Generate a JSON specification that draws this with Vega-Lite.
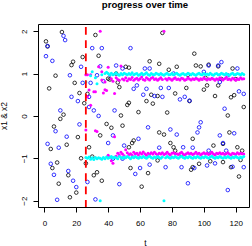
{
"$schema":"https://vega.github.io/schema/vega-lite/v6.json",
"width":211,"height":183,
"autosize":"none",
"padding":{"left":38,"top":24,"right":3,"bottom":39},
"background":"white",
"title":{"text":"progress over time","anchor":"middle","fontSize":9.6,"fontWeight":"bold","font":"Liberation Sans","color":"black","baseline":"alphabetic","offset":5.6,"frame":"group","dx":1.5},
"config":{"font":"Liberation Sans","view":{"stroke":"black","strokeWidth":1},
"axis":{"domain":false,"grid":false,"tickColor":"black","tickSize":5,"tickWidth":1,"labelFontSize":8,"labelColor":"black","titleFontSize":8.4,"titleFontWeight":"normal","titleColor":"black","labelFont":"Liberation Sans","titleFont":"Liberation Sans"}},
"datasets":{
"obs":[
{"t":1,"v":1.76,"s":"a"},{"t":2,"v":1.64,"s":"a"},{"t":3,"v":0.65,"s":"a"},{"t":7,"v":0.95,"s":"a"},{"t":11,"v":1.98,"s":"a"},{"t":32,"v":1.91,"s":"a"},{"t":34,"v":1.42,"s":"a"},{"t":24,"v":1.39,"s":"a"},{"t":18,"v":1.28,"s":"a"},{"t":17,"v":1.2,"s":"a"},{"t":19,"v":0.78,"s":"a"},{"t":22,"v":0.54,"s":"a"},{"t":27,"v":0.52,"s":"a"},{"t":25,"v":0.3,"s":"a"},{"t":12,"v":0.03,"s":"a"},{"t":40,"v":0.88,"s":"a"},{"t":10,"v":-0.07,"s":"a"},{"t":6,"v":-0.25,"s":"a"},{"t":39,"v":-0.19,"s":"a"},{"t":35,"v":-0.46,"s":"a"},{"t":21,"v":-0.5,"s":"a"},{"t":4,"v":-0.78,"s":"a"},{"t":14,"v":-0.68,"s":"a"},{"t":28,"v":-0.74,"s":"a"},{"t":8,"v":-1.1,"s":"a"},{"t":5,"v":-1.23,"s":"a"},{"t":23,"v":-1.0,"s":"a"},{"t":26,"v":-1.12,"s":"a"},{"t":33,"v":-1.33,"s":"a"},{"t":31,"v":-1.4,"s":"a"},{"t":15,"v":-1.4,"s":"a"},{"t":9,"v":-1.6,"s":"a"},{"t":36,"v":-1.53,"s":"a"},{"t":20,"v":-1.81,"s":"a"},{"t":16,"v":-1.92,"s":"a"},{"t":30,"v":-0.96,"s":"a"},{"t":48,"v":0.01,"s":"a"},{"t":42,"v":-0.28,"s":"a"},{"t":49,"v":-0.23,"s":"a"},{"t":53,"v":-0.74,"s":"a"},{"t":55,"v":-0.64,"s":"a"},{"t":56,"v":-0.58,"s":"a"},{"t":54,"v":-1.23,"s":"a"},{"t":65,"v":-1.35,"s":"a"},{"t":61,"v":-1.67,"s":"a"},{"t":72,"v":-0.39,"s":"a"},{"t":75,"v":-0.44,"s":"a"},{"t":79,"v":-0.64,"s":"a"},{"t":81,"v":-0.74,"s":"a"},{"t":71,"v":-1.05,"s":"a"},{"t":82,"v":-0.82,"s":"a"},{"t":115,"v":0.01,"s":"a"},{"t":116,"v":-0.39,"s":"a"},{"t":93,"v":-0.54,"s":"a"},{"t":106,"v":-0.7,"s":"a"},{"t":112,"v":-0.66,"s":"a"},{"t":121,"v":-0.74,"s":"a"},{"t":124,"v":-0.82,"s":"a"},{"t":123,"v":-1.04,"s":"a"},{"t":93,"v":-1.21,"s":"a"},{"t":92,"v":-1.27,"s":"a"},{"t":97,"v":-1.13,"s":"a"},{"t":104,"v":-1.07,"s":"a"},{"t":112,"v":-1.09,"s":"a"},{"t":117,"v":-1.21,"s":"a"},{"t":122,"v":-1.43,"s":"a"},{"t":86,"v":-0.91,"s":"a"},{"t":74,"v":1.96,"s":"a"},{"t":66,"v":1.29,"s":"a"},{"t":72,"v":1.23,"s":"a"},{"t":78,"v":1.09,"s":"a"},{"t":83,"v":1.16,"s":"a"},{"t":51,"v":1.16,"s":"a"},{"t":53,"v":1.14,"s":"a"},{"t":45,"v":1.0,"s":"a"},{"t":41,"v":0.86,"s":"a"},{"t":46,"v":0.79,"s":"a"},{"t":47,"v":0.68,"s":"a"},{"t":82,"v":0.53,"s":"a"},{"t":67,"v":0.5,"s":"a"},{"t":64,"v":0.35,"s":"a"},{"t":68,"v":0.29,"s":"a"},{"t":71,"v":0.47,"s":"a"},{"t":53,"v":0.31,"s":"a"},{"t":52,"v":0.26,"s":"a"},{"t":59,"v":0.09,"s":"a"},{"t":77,"v":0.08,"s":"a"},{"t":94,"v":1.47,"s":"a"},{"t":95,"v":1.19,"s":"a"},{"t":98,"v":1.17,"s":"a"},{"t":103,"v":1.21,"s":"a"},{"t":109,"v":1.17,"s":"a"},{"t":118,"v":1.12,"s":"a"},{"t":90,"v":0.97,"s":"a"},{"t":101,"v":0.9,"s":"a"},{"t":111,"v":0.87,"s":"a"},{"t":120,"v":0.87,"s":"a"},{"t":102,"v":0.72,"s":"a"},{"t":109,"v":0.72,"s":"a"},{"t":89,"v":0.66,"s":"a"},{"t":100,"v":0.62,"s":"a"},{"t":91,"v":0.35,"s":"a"},{"t":107,"v":0.47,"s":"a"},{"t":117,"v":0.44,"s":"a"},{"t":119,"v":0.49,"s":"a"},{"t":125,"v":0.21,"s":"a"},
{"t":12,"v":1.89,"s":"b"},{"t":13,"v":1.79,"s":"b"},{"t":2,"v":1.65,"s":"b"},{"t":1,"v":1.41,"s":"b"},{"t":5,"v":1.3,"s":"b"},{"t":30,"v":1.6,"s":"b"},{"t":36,"v":1.6,"s":"b"},{"t":35,"v":1.17,"s":"b"},{"t":23,"v":1.16,"s":"b"},{"t":16,"v":0.96,"s":"b"},{"t":33,"v":0.96,"s":"b"},{"t":24,"v":0.78,"s":"b"},{"t":29,"v":0.78,"s":"b"},{"t":17,"v":0.45,"s":"b"},{"t":21,"v":0.35,"s":"b"},{"t":28,"v":0.45,"s":"b"},{"t":37,"v":0.82,"s":"b"},{"t":28,"v":0.21,"s":"b"},{"t":10,"v":0.13,"s":"b"},{"t":31,"v":0.13,"s":"b"},{"t":34,"v":0.0,"s":"b"},{"t":22,"v":-0.2,"s":"b"},{"t":7,"v":-0.36,"s":"b"},{"t":14,"v":-0.49,"s":"b"},{"t":40,"v":-0.64,"s":"b"},{"t":2,"v":-0.66,"s":"b"},{"t":9,"v":-0.75,"s":"b"},{"t":4,"v":-1.13,"s":"b"},{"t":6,"v":-1.39,"s":"b"},{"t":15,"v":-1.3,"s":"b"},{"t":18,"v":-1.53,"s":"b"},{"t":20,"v":-1.68,"s":"b"},{"t":27,"v":-1.56,"s":"b"},{"t":8,"v":-1.98,"s":"b"},{"t":32,"v":-1.97,"s":"b"},{"t":47,"v":-1.61,"s":"b"},{"t":65,"v":-0.27,"s":"b"},{"t":43,"v":-0.46,"s":"b"},{"t":59,"v":-0.54,"s":"b"},{"t":50,"v":-0.7,"s":"b"},{"t":43,"v":-1.01,"s":"b"},{"t":49,"v":-1.01,"s":"b"},{"t":60,"v":-1.23,"s":"b"},{"t":57,"v":-1.37,"s":"b"},{"t":66,"v":-1.15,"s":"b"},{"t":72,"v":-0.75,"s":"b"},{"t":79,"v":-0.32,"s":"b"},{"t":83,"v":-0.44,"s":"b"},{"t":76,"v":-1.21,"s":"b"},{"t":98,"v":-0.15,"s":"b"},{"t":97,"v":-0.27,"s":"b"},{"t":96,"v":-0.39,"s":"b"},{"t":110,"v":-0.46,"s":"b"},{"t":119,"v":-0.41,"s":"b"},{"t":87,"v":-0.74,"s":"b"},{"t":93,"v":-0.75,"s":"b"},{"t":103,"v":-0.82,"s":"b"},{"t":112,"v":-0.64,"s":"b"},{"t":114,"v":-0.82,"s":"b"},{"t":86,"v":-1.21,"s":"b"},{"t":94,"v":-1.23,"s":"b"},{"t":102,"v":-1.17,"s":"b"},{"t":107,"v":-1.12,"s":"b"},{"t":118,"v":-1.2,"s":"b"},{"t":125,"v":-1.21,"s":"b"},{"t":90,"v":-1.59,"s":"b"},{"t":115,"v":-1.75,"s":"b"},{"t":54,"v":1.6,"s":"b"},{"t":45,"v":1.19,"s":"b"},{"t":49,"v":1.12,"s":"b"},{"t":63,"v":1.12,"s":"b"},{"t":66,"v":1.12,"s":"b"},{"t":81,"v":1.0,"s":"b"},{"t":58,"v":0.72,"s":"b"},{"t":56,"v":0.64,"s":"b"},{"t":64,"v":0.64,"s":"b"},{"t":73,"v":0.66,"s":"b"},{"t":78,"v":0.66,"s":"b"},{"t":62,"v":0.5,"s":"b"},{"t":69,"v":0.47,"s":"b"},{"t":74,"v":0.45,"s":"b"},{"t":44,"v":0.13,"s":"b"},{"t":100,"v":1.04,"s":"b"},{"t":103,"v":1.19,"s":"b"},{"t":109,"v":1.19,"s":"b"},{"t":111,"v":1.27,"s":"b"},{"t":121,"v":1.12,"s":"b"},{"t":115,"v":0.96,"s":"b"},{"t":110,"v":0.8,"s":"b"},{"t":88,"v":0.45,"s":"b"},{"t":85,"v":0.39,"s":"b"},{"t":91,"v":0.36,"s":"b"},{"t":122,"v":0.58,"s":"b"},{"t":125,"v":0.52,"s":"b"},{"t":113,"v":0.17,"s":"b"}
],
"est":[
{"t":26,"mu":0.97,"ml":-0.33,"cu":0.8,"cl":-0.98},
{"t":27,"mu":0.97,"ml":0.45,"cu":null,"cl":-1.0},
{"t":28,"mu":0.61,"ml":null,"cu":null,"cl":-0.97},
{"t":29,"mu":0.97,"ml":0.25,"cu":0.95,"cl":-1.02},
{"t":30,"mu":null,"ml":null,"cu":1.04,"cl":-0.99},
{"t":31,"mu":0.57,"ml":null,"cu":null,"cl":-1.03},
{"t":32,"mu":0.57,"ml":-0.35,"cu":0.9,"cl":-0.98},
{"t":33,"mu":null,"ml":-0.37,"cu":0.76,"cl":-1.01},
{"t":34,"mu":1.16,"ml":null,"cu":null,"cl":-0.99},
{"t":35,"mu":2.0,"ml":null,"cu":-2.0,"cl":-1.0},
{"t":36,"mu":1.04,"ml":0.85,"cu":0.97,"cl":-1.02},
{"t":37,"mu":0.54,"ml":null,"cu":null,"cl":-0.98},
{"t":38,"mu":0.62,"ml":0.8,"cu":1.0,"cl":-1.01},
{"t":39,"mu":0.6,"ml":null,"cu":1.03,"cl":-0.97},
{"t":40,"mu":1.15,"ml":-0.93,"cu":1.0,"cl":-1.0},
{"t":41,"mu":0.95,"ml":-0.97,"cu":0.96,"cl":-0.98},
{"t":42,"mu":0.88,"ml":-1.06,"cu":1.01,"cl":-0.96},
{"t":43,"mu":0.82,"ml":-1.12,"cu":0.97,"cl":-1.0},
{"t":44,"mu":0.53,"ml":-0.49,"cu":0.99,"cl":-0.97},
{"t":45,"mu":0.9,"ml":-0.95,"cu":1.02,"cl":-0.99},
{"t":46,"mu":0.86,"ml":-0.88,"cu":0.98,"cl":-1.01},
{"t":47,"mu":0.84,"ml":-0.92,"cu":0.96,"cl":-0.96},
{"t":48,"mu":1.18,"ml":-0.86,"cu":1.0,"cl":-0.98},
{"t":49,"mu":0.87,"ml":-0.9,"cu":0.97,"cl":-1.0},
{"t":50,"mu":0.85,"ml":-0.94,"cu":1.01,"cl":-0.97},
{"t":51,"mu":0.9,"ml":-0.8,"cu":0.99,"cl":-0.99},
{"t":52,"mu":0.83,"ml":-0.87,"cu":0.97,"cl":-0.96},
{"t":53,"mu":0.88,"ml":-0.91,"cu":1.0,"cl":-0.98},
{"t":54,"mu":0.86,"ml":-0.89,"cu":0.98,"cl":-1.01},
{"t":55,"mu":0.91,"ml":-0.93,"cu":1.02,"cl":-0.97},
{"t":56,"mu":0.84,"ml":-0.86,"cu":0.97,"cl":-0.99},
{"t":57,"mu":0.87,"ml":-0.9,"cu":0.99,"cl":-0.96},
{"t":58,"mu":0.89,"ml":-0.88,"cu":1.0,"cl":-0.98},
{"t":59,"mu":0.85,"ml":-0.92,"cu":0.96,"cl":-1.0},
{"t":60,"mu":0.88,"ml":-0.87,"cu":0.98,"cl":-0.97},
{"t":61,"mu":0.92,"ml":-0.9,"cu":1.01,"cl":-0.99},
{"t":62,"mu":0.86,"ml":-0.85,"cu":0.97,"cl":-0.96},
{"t":63,"mu":0.84,"ml":-0.89,"cu":0.99,"cl":-0.98},
{"t":64,"mu":0.9,"ml":-0.93,"cu":1.02,"cl":-1.0},
{"t":65,"mu":0.87,"ml":-0.88,"cu":0.98,"cl":-0.97},
{"t":66,"mu":0.85,"ml":-0.91,"cu":0.96,"cl":-0.95},
{"t":67,"mu":0.89,"ml":-0.87,"cu":1.0,"cl":-0.98},
{"t":68,"mu":0.91,"ml":-0.9,"cu":0.98,"cl":-1.0},
{"t":69,"mu":0.86,"ml":-0.86,"cu":0.97,"cl":-0.97},
{"t":70,"mu":0.88,"ml":-0.89,"cu":1.01,"cl":-0.99},
{"t":71,"mu":0.84,"ml":-0.92,"cu":0.99,"cl":-0.96},
{"t":72,"mu":0.87,"ml":-0.88,"cu":0.97,"cl":-0.98},
{"t":73,"mu":0.9,"ml":-0.9,"cu":1.0,"cl":-1.0},
{"t":74,"mu":0.86,"ml":-0.87,"cu":0.98,"cl":-0.97},
{"t":75,"mu":2.0,"ml":-0.91,"cu":0.96,"cl":-2.0},
{"t":76,"mu":0.88,"ml":-0.89,"cu":0.99,"cl":-0.99},
{"t":77,"mu":0.85,"ml":-0.86,"cu":1.01,"cl":-0.96},
{"t":78,"mu":0.89,"ml":-0.9,"cu":0.97,"cl":-0.98},
{"t":79,"mu":0.87,"ml":-0.92,"cu":0.98,"cl":-1.0},
{"t":80,"mu":0.84,"ml":-0.88,"cu":1.0,"cl":-0.97},
{"t":81,"mu":0.88,"ml":-0.87,"cu":0.97,"cl":-0.99},
{"t":82,"mu":0.9,"ml":-0.9,"cu":0.99,"cl":-0.96},
{"t":83,"mu":0.86,"ml":-0.89,"cu":1.01,"cl":-0.98},
{"t":84,"mu":0.87,"ml":-0.91,"cu":0.98,"cl":-1.0},
{"t":85,"mu":0.85,"ml":-0.88,"cu":0.96,"cl":-0.97},
{"t":86,"mu":0.89,"ml":-0.86,"cu":0.99,"cl":-0.95},
{"t":87,"mu":0.88,"ml":-0.9,"cu":1.0,"cl":-0.98},
{"t":88,"mu":0.84,"ml":-0.92,"cu":0.97,"cl":-1.0},
{"t":89,"mu":0.86,"ml":-0.89,"cu":0.98,"cl":-0.97},
{"t":90,"mu":0.9,"ml":-0.87,"cu":1.01,"cl":-0.99},
{"t":91,"mu":0.87,"ml":-0.9,"cu":0.99,"cl":-0.96},
{"t":92,"mu":0.85,"ml":-0.88,"cu":0.97,"cl":-0.98},
{"t":93,"mu":0.88,"ml":-0.91,"cu":1.0,"cl":-1.0},
{"t":94,"mu":0.86,"ml":-0.89,"cu":0.98,"cl":-0.97},
{"t":95,"mu":0.89,"ml":-0.86,"cu":0.96,"cl":-0.99},
{"t":96,"mu":0.87,"ml":-0.9,"cu":0.99,"cl":-0.96},
{"t":97,"mu":0.84,"ml":-0.88,"cu":1.01,"cl":-0.98},
{"t":98,"mu":0.88,"ml":-0.92,"cu":0.98,"cl":-1.0},
{"t":99,"mu":0.86,"ml":-0.89,"cu":0.97,"cl":-0.97},
{"t":100,"mu":0.9,"ml":-0.87,"cu":1.0,"cl":-0.99},
{"t":101,"mu":0.87,"ml":-0.9,"cu":0.98,"cl":-0.96},
{"t":102,"mu":0.85,"ml":-0.88,"cu":0.99,"cl":-0.98},
{"t":103,"mu":0.88,"ml":-0.91,"cu":0.97,"cl":-1.0},
{"t":104,"mu":0.86,"ml":-0.89,"cu":1.01,"cl":-0.97},
{"t":105,"mu":0.89,"ml":-0.86,"cu":0.98,"cl":-0.95},
{"t":106,"mu":0.87,"ml":-0.9,"cu":0.96,"cl":-0.98},
{"t":107,"mu":0.84,"ml":-0.92,"cu":0.99,"cl":-1.0},
{"t":108,"mu":0.88,"ml":-0.88,"cu":1.0,"cl":-0.97},
{"t":109,"mu":0.86,"ml":-0.89,"cu":0.97,"cl":-0.99},
{"t":110,"mu":0.9,"ml":-0.87,"cu":0.98,"cl":-0.96},
{"t":111,"mu":0.87,"ml":-0.9,"cu":1.01,"cl":-0.98},
{"t":112,"mu":0.85,"ml":-0.88,"cu":0.99,"cl":-1.0},
{"t":113,"mu":0.88,"ml":-0.91,"cu":0.97,"cl":-0.97},
{"t":114,"mu":0.91,"ml":-0.89,"cu":1.0,"cl":-0.99},
{"t":115,"mu":0.86,"ml":-0.87,"cu":0.98,"cl":-0.96},
{"t":116,"mu":0.87,"ml":-0.9,"cu":0.96,"cl":-0.98},
{"t":117,"mu":0.85,"ml":-0.92,"cu":0.99,"cl":-1.0},
{"t":118,"mu":0.89,"ml":-0.88,"cu":1.01,"cl":-0.97},
{"t":119,"mu":0.87,"ml":-0.89,"cu":0.97,"cl":-0.99},
{"t":120,"mu":0.84,"ml":-0.91,"cu":0.98,"cl":-0.96},
{"t":121,"mu":0.88,"ml":-0.87,"cu":1.0,"cl":-0.98},
{"t":122,"mu":0.86,"ml":-0.9,"cu":0.99,"cl":-1.0},
{"t":123,"mu":0.9,"ml":-0.88,"cu":0.97,"cl":-0.97},
{"t":124,"mu":0.87,"ml":-0.89,"cu":1.0,"cl":-0.99},
{"t":125,"mu":0.88,"ml":-0.9,"cu":0.98,"cl":-0.96}
]
},
"encoding":{
"x":{"field":"t","type":"quantitative","scale":{"domain":[-4,128.3],"nice":false,"zero":false},
"axis":{"values":[0,20,40,60,80,100,120],"title":"t","labelPadding":7.2,"titleX":107,"titleY":38,"titleBaseline":"alphabetic","titleAlign":"center"}},
"y":{"field":"v","type":"quantitative","scale":{"domain":[-2.15,2.17],"nice":false,"zero":false},
"axis":{"values":[-2,-1,0,1,2],"title":"x1 & x2","labelAngle":-90,"labelAlign":"center","labelBaseline":"alphabetic","labelPadding":6.9,"titleAngle":-90,"titleX":-31.3,"titleY":91.5,"titleBaseline":"alphabetic","titleAlign":"center"}}
},
"layer":[
{"data":{"name":"obs"},"mark":{"type":"point","shape":"circle","filled":false,"size":13,"strokeWidth":0.8,"opacity":1},
"encoding":{"color":{"field":"s","type":"nominal","scale":{"domain":["a","b"],"range":["#000000","#0000ff"]},"legend":null}}},
{"data":{"name":"est"},"transform":[{"fold":["mu","ml"],"as":["k","v"]}],
"mark":{"type":"point","shape":"circle","filled":true,"size":9,"opacity":1,"color":"#ff00ff","strokeWidth":0}},
{"data":{"name":"est"},"transform":[{"fold":["cu","cl"],"as":["k","v"]}],
"mark":{"type":"point","shape":"circle","filled":true,"size":9,"opacity":1,"color":"#00ffff","strokeWidth":0}},
{"data":{"values":[{"t":26}]},"mark":{"type":"rule","color":"#ff0000","strokeWidth":1.8,"strokeDash":[7.7,5.6],"strokeDashOffset":10.3},
"encoding":{"x":{"field":"t","type":"quantitative"},"y":null}}
]
}
